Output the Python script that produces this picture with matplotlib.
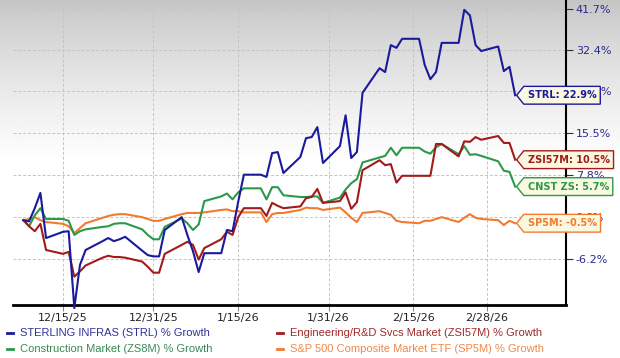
import numpy as np
import pandas as pd
import matplotlib
matplotlib.use('Agg')
import matplotlib.pyplot as plt
from matplotlib.path import Path
from matplotlib.lines import Line2D

# trading days (weekdays) shown on the chart
dates = pd.bdate_range('2025-12-08', '2026-03-05')

strl = [0.0, -0.2, 2.0, 4.6, -2.9,
        -1.9, -1.8, -13.5, -7.1, -4.8,
        -3.4, -2.9, -3.4, -3.1, -2.7,
        -4.9, -5.6, -5.8, -5.8, -1.6,
        0.5, -2.4, -5.0, -8.2, -5.3,
        -5.3, -1.6, -1.8, 3.1, 7.8,
        7.8, 7.4, 11.7, 11.9, 8.1,
        11.0, 14.5, 14.7, 16.6, 9.9,
        13.0, 18.9, 10.8, 11.9, 23.4,
        28.5, 27.7, 33.5, 32.9, 34.9,
        34.9, 29.2, 26.2, 27.7, 34.0,
        34.0, 41.5, 40.2, 33.5, 32.2,
        33.2, 27.9, 28.8, 22.9]

zsi57m = [0.0, -1.0, -1.8, -0.6, -4.8,
          -5.4, -5.1, -8.9, -8.1, -7.2,
          -6.0, -5.7, -5.9, -5.9, -6.0,
          -6.6, -7.4, -8.3, -8.3, -5.4,
          -4.0, -3.5, -4.0, -6.3, -4.5,
          -3.1, -1.9, -2.4, 0.5, 2.0,
          2.0, 0.7, 2.9, 2.4, 2.0,
          2.3, 3.7, 3.9, 5.3, 2.9,
          3.2, 4.7, 1.9, 3.0, 8.6,
          10.4, 9.5, 9.7, 6.4, 7.6,
          7.6, 7.6, 7.6, 13.4, 13.4,
          11.1, 13.9, 13.8, 14.7, 14.2,
          14.9, 13.6, 13.6, 10.5]

zs8m = [0.0, -1.0, 0.8, 2.0, 0.2,
        0.2, -0.1, -2.4, -1.8, -1.5,
        -1.1, -1.0, -0.6, -0.5, -0.5,
        -1.5, -2.4, -3.1, -3.1, -1.1,
        0.3, -0.5, -1.6, -0.7, 3.2,
        4.0, 4.5, 3.5, 4.7, 5.4,
        5.4, 3.5, 5.6, 5.6, 4.2,
        3.9, 3.9, 4.0, 4.0, 2.9,
        3.8, 5.2, 6.3, 7.0, 10.0,
        10.9, 11.2, 12.7, 11.3, 12.7,
        12.7, 12.0, 11.6, 12.8, 13.4,
        11.5, 13.0, 11.4, 11.5, 11.2,
        10.2, 8.5, 8.3, 5.7]

sp5m = [0.0, 0.2, 0.5, 0.0, -0.3,
        -0.6, -1.0, -2.1, -1.3, -0.5,
        0.4, 0.7, 0.9, 1.0, 1.0,
        0.5, 0.2, -0.1, -0.1, 0.2,
        1.0, 1.2, 1.2, 1.2, 1.3,
        1.7, 1.8, 1.5, 1.5, 1.3,
        1.3, -0.3, 1.0, 1.2, 1.2,
        1.7, 2.1, 2.0, 2.0, 1.7,
        2.1, 1.3, 0.4, -0.3, 1.2,
        1.5, 1.2, 0.9, -0.1, -0.3,
        -0.5, -0.1, -0.1, 0.2, 0.5,
        -0.3, 0.4, 1.0, 0.4, 0.2,
        0.0, -0.8, -0.1, -0.5]

xtick_dates = ['2025-12-15', '2025-12-31', '2026-01-15', '2026-01-31', '2026-02-15', '2026-02-28']
xtick_labels = ['12/15/25', '12/31/25', '1/15/26', '1/31/26', '2/15/26', '2/28/26']
ytick_vals = [-6.2, 0.6, 7.8, 15.5, 23.7, 32.4, 41.7]
ytick_labels = ['-6.2%', '0.6%', '7.8%', '15.5%', '23.7%', '32.4%', '41.7%']

series = [
    ('S&P 500 Composite Market ETF (SP5M) % Growth', 'SP5M: -0.5%', sp5m, '#f27a30', '#f08848'),
    ('Construction Market (ZS8M) % Growth', 'CNST ZS: 5.7%', zs8m, '#2a9a4a', '#3a8a55'),
    ('Engineering/R&D Svcs Market (ZSI57M) % Growth', 'ZSI57M: 10.5%', zsi57m, '#a31a1a', '#a02828'),
    ('STERLING INFRAS (STRL) % Growth', 'STRL: 22.9%', strl, '#1a1a9c', '#3030a0'),
]


def tag_box(x0, y0, width, height, mutation_size):
    pad = mutation_size * 0.4
    x0, y0 = x0 - pad, y0 - pad
    x1, y1 = x0 + width + 2 * pad, y0 + height + 2 * pad
    tip = (y1 - y0) * 0.4
    ym = (y0 + y1) / 2
    verts = [(x0 - tip, ym), (x0, y1), (x1, y1), (x1, y0), (x0, y0), (x0 - tip, ym)]
    return Path(verts, closed=True)


fig = plt.figure(figsize=(6.2, 3.58), dpi=100)

# grey-to-white background
bg = fig.add_axes([0, 0, 1, 1], zorder=-1)
t = np.linspace(0, 1, 300)
shade = 0.77 + 0.23 * np.clip(t / 0.45, 0, 1) ** 0.8
bg.imshow(shade[:, None], cmap='gray', vmin=0, vmax=1, aspect='auto',
          extent=[0, 1, 0, 1], origin='upper')
bg.axis('off')

ax = fig.add_axes([13 / 620, 53 / 358, 553 / 620, 305 / 358])
ax.set_facecolor('none')
ax.set_yscale('function', functions=(lambda g: np.log1p(np.asarray(g) / 100.0),
                                     lambda v: np.expm1(np.asarray(v)) * 100.0))

for name, tag, vals, col, _ in series:
    ax.plot(dates, vals, color=col, lw=1.5, clip_on=False, zorder=3)

d0 = pd.Timestamp('2025-12-15')
ax.set_xlim(d0 - pd.Timedelta(days=8.85), d0 + pd.Timedelta(days=89.0))
ax.set_ylim(-13.06, 43.82)

ax.set_xticks(pd.to_datetime(xtick_dates))
ax.set_xticklabels(xtick_labels, fontsize=8, color='#222222')
ax.yaxis.tick_right()
ax.set_yticks(ytick_vals)
ax.set_yticklabels(ytick_labels, fontsize=8, color='#2a2a8a')
ax.tick_params(axis='x', length=4, width=0.8, color='#888888', pad=2)
ax.tick_params(axis='y', length=5, width=0.8, color='#333333', pad=2)
ax.minorticks_off()

ax.grid(True, color='#c4c4c4', lw=0.7, ls=(0, (3, 2)))
for s in ['left', 'top']:
    ax.spines[s].set_visible(False)
ax.spines['bottom'].set_linewidth(2)
ax.spines['right'].set_linewidth(1.5)

# end-of-line callouts
for name, tag, vals, col, _ in series:
    ax.annotate(tag, xy=(dates[-1], vals[-1]), xytext=(9, 0), textcoords='offset points',
                va='center', ha='left', fontsize=7, fontweight='bold', color=col,
                bbox=dict(boxstyle=tag_box, fc='#faf8e0', ec=col, lw=1),
                annotation_clip=False, zorder=6)

# legend, two columns at the bottom
legend_pos = {
    'STERLING INFRAS (STRL) % Growth': (7, 333),
    'Engineering/R&D Svcs Market (ZSI57M) % Growth': (277, 333),
    'Construction Market (ZS8M) % Growth': (7, 349),
    'S&P 500 Composite Market ETF (SP5M) % Growth': (277, 349),
}
for name, tag, vals, col, tcol in series:
    px, py = legend_pos[name]
    yf = 1 - py / 358
    fig.add_artist(Line2D([px / 620, (px + 6) / 620], [yf, yf], color=col, lw=2))
    fig.text((px + 13) / 620, yf, name, fontsize=8, color=tcol, va='center',
             ha='left', family='Liberation Sans')

fig.savefig('out.png', dpi=100)
